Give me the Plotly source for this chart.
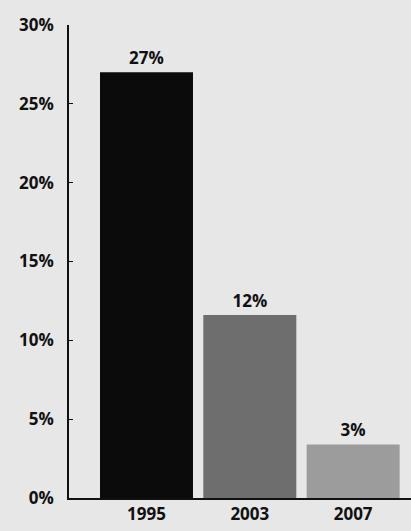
import plotly.graph_objects as go

years = ["1995", "2003", "2007"]
values = [27, 11.6, 3.4]
labels = ["27%", "12%", "3%"]
colors = ["#0b0b0b", "#6e6e6e", "#9c9c9c"]

fig = go.Figure(go.Bar(
    x=years, y=values, text=labels, textposition="outside",
    marker=dict(color=colors, line=dict(width=0)),
    textfont=dict(family="Open Sans", size=17, color="#111", weight="bold"),
    cliponaxis=False, width=0.9,
))

fig.update_layout(
    width=411, height=531,
    margin=dict(l=69, r=0, t=25, b=33),
    paper_bgcolor="#e7e7e7", plot_bgcolor="#e7e7e7",
    showlegend=False,
    font=dict(family="Open Sans", size=17, color="#111", weight="bold"),
)
fig.update_xaxes(
    type="category", range=[-0.75, 2.56], showline=True, linecolor="#111",
    linewidth=2, ticks="", showgrid=False, tickfont=dict(size=17, weight="bold"),
)
fig.update_yaxes(
    range=[0, 30], dtick=5, ticksuffix="%", showline=True, linecolor="#111",
    linewidth=1.5, ticks="inside", ticklen=4, tickcolor="#111", showgrid=False,
    zeroline=False, tickfont=dict(size=17, weight="bold"), ticklabelstandoff=10,
)

fig.write_html("out.html")
